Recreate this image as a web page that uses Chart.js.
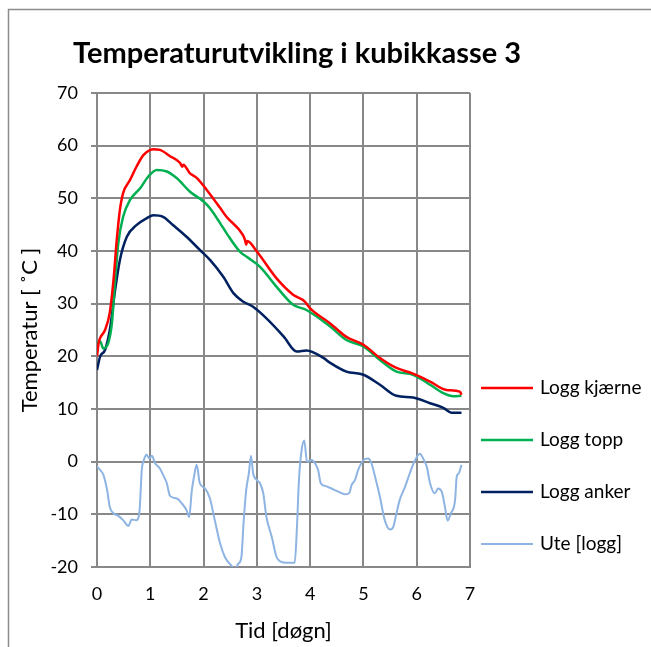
<!DOCTYPE html>
<html>
<head>
<meta charset="utf-8">
<script src="https://cdn.jsdelivr.net/npm/chart.js@4/dist/chart.umd.min.js"></script>
<style>
html,body{margin:0;padding:0;background:#fff;overflow:hidden;}
#wrap{position:relative;width:651px;height:647px;}
</style>
</head>
<body>
<div id="wrap"><canvas id="c" width="651" height="647"></canvas></div>
<script>
// ---- Data ----
const titleText = "Temperaturutvikling i kubikkasse 3";
const xTitle = "Tid [døgn]";
const yTitle = "Temperatur [ ˚C ]";
const seriesNames = ["Logg kjærne", "Logg topp", "Logg anker", "Ute [logg]"];

const kjerneDays = [0, 0.03, 0.06, 0.15, 0.24, 0.31, 0.37, 0.43, 0.49, 0.62, 0.74, 0.87, 1.0, 1.06, 1.18, 1.37, 1.56, 1.6, 1.62, 1.74, 1.87, 2.06, 2.31, 2.43, 2.74, 2.78, 2.8, 2.82, 3.0, 3.37, 3.68, 3.9, 4.0, 4.37, 4.68, 5.0, 5.31, 5.62, 5.93, 6.25, 6.56, 6.81, 6.84];
const kjerneTemp = [20.0, 22.5, 23.5, 25.0, 28.3, 34.5, 42.0, 47.8, 51.0, 53.5, 56.0, 58.2, 59.2, 59.3, 59.2, 58.0, 56.7, 56.0, 56.4, 54.8, 53.9, 51.6, 48.2, 46.5, 43.0, 42.0, 41.2, 41.9, 39.9, 34.8, 31.7, 30.4, 29.1, 26.3, 23.7, 22.2, 19.7, 17.8, 16.7, 15.2, 13.6, 13.3, 12.7];

const toppDays = [0, 0.06, 0.12, 0.21, 0.28, 0.34, 0.40, 0.49, 0.62, 0.81, 0.96, 1.12, 1.31, 1.5, 1.74, 2.0, 2.12, 2.31, 2.43, 2.68, 2.81, 3.06, 3.37, 3.68, 3.93, 4.37, 4.68, 5.0, 5.31, 5.62, 5.93, 6.25, 6.5, 6.69, 6.84];
const toppTemp = [22.5, 22.8, 21.5, 22.5, 26.3, 34.5, 41.5, 46.5, 49.7, 51.9, 54.1, 55.4, 55.1, 53.8, 51.3, 49.4, 48.1, 45.3, 43.4, 39.9, 38.9, 37.0, 33.2, 29.8, 28.8, 25.7, 23.1, 21.9, 19.3, 17.1, 16.5, 14.6, 13.0, 12.4, 12.5];

const ankerDays = [0, 0.06, 0.15, 0.24, 0.34, 0.43, 0.56, 0.74, 0.93, 1.06, 1.24, 1.43, 1.68, 1.93, 2.12, 2.37, 2.56, 2.74, 2.93, 3.18, 3.5, 3.75, 3.93, 4.25, 4.37, 4.68, 5.0, 5.31, 5.62, 5.93, 6.25, 6.5, 6.65, 6.84];
const ankerTemp = [17.4, 20.0, 21.2, 25.0, 32.6, 38.3, 42.7, 44.9, 46.2, 46.8, 46.5, 44.9, 42.7, 40.2, 38.3, 35.1, 32.0, 30.4, 29.4, 27.2, 23.8, 20.9, 21.1, 19.7, 18.8, 17.1, 16.5, 14.6, 12.5, 12.2, 11.1, 10.2, 9.3, 9.3];

const uteDays = [0, 0.06, 0.12, 0.19, 0.24, 0.31, 0.40, 0.49, 0.59, 0.65, 0.74, 0.80, 0.82, 0.84, 0.88, 0.93, 0.98, 1.03, 1.09, 1.18, 1.24, 1.31, 1.37, 1.5, 1.59, 1.68, 1.73, 1.78, 1.82, 1.87, 1.93, 2.03, 2.12, 2.21, 2.31, 2.40, 2.50, 2.59, 2.65, 2.71, 2.75, 2.80, 2.85, 2.89, 2.93, 3.0, 3.06, 3.12, 3.18, 3.28, 3.37, 3.45, 3.55, 3.62, 3.71, 3.75, 3.79, 3.84, 3.89, 3.94, 4.03, 4.09, 4.15, 4.20, 4.28, 4.40, 4.53, 4.65, 4.73, 4.78, 4.84, 4.90, 5.0, 5.09, 5.15, 5.22, 5.31, 5.40, 5.50, 5.56, 5.62, 5.68, 5.78, 5.87, 5.97, 6.06, 6.12, 6.19, 6.25, 6.34, 6.40, 6.47, 6.53, 6.58, 6.64, 6.72, 6.75, 6.79, 6.84];
const uteTemp = [-0.9, -1.6, -2.5, -5.4, -8.6, -9.8, -10.3, -11.1, -12.2, -11.0, -11.1, -9.2, -5.4, -1.6, 0.3, 1.3, 0.6, 1.1, -0.3, -1.3, -2.5, -4.1, -6.5, -7.0, -7.9, -9.2, -10.5, -5.4, -2.9, -0.6, -4.1, -5.1, -7.0, -11.1, -15.5, -18.1, -19.5, -20.3, -19.4, -18.1, -11.7, -5.4, -2.2, 1.1, -2.2, -3.5, -4.1, -6.0, -10.5, -14.3, -18.1, -19.0, -19.2, -19.2, -19.2, -13.0, -3.5, 2.2, 4.0, 0.0, 0.3, -0.3, -1.6, -4.1, -4.6, -5.1, -5.7, -6.2, -6.0, -4.4, -3.5, -1.6, 0.3, 0.6, -0.3, -2.9, -6.7, -11.1, -12.9, -12.4, -9.8, -7.3, -4.8, -2.2, 0.3, 1.5, 0.6, -1.0, -4.1, -6.0, -5.1, -5.7, -8.6, -11.2, -9.8, -7.3, -2.9, -2.2, -0.6];

const xTicks = [0, 1, 2, 3, 4, 5, 6, 7];
const yTicks = [-20, -10, 0, 10, 20, 30, 40, 50, 60, 70];

// ---- Build datasets ----
function pts(xs, ys){ return xs.map((x,i)=>({x:x, y:ys[i]})); }
const colors = ["#FF0000", "#00B050", "#002060", "#8EB4E3"];
const widths = [2.5, 2.5, 2.5, 2];
const dataSets = [pts(kjerneDays,kjerneTemp), pts(toppDays,toppTemp), pts(ankerDays,ankerTemp), pts(uteDays,uteTemp)];

const FONT = "Lato";
const gridColor = "#888888";

const decor = {
  id: "decor",
  beforeDraw(chart){
    const ctx = chart.ctx;
    ctx.save();
    ctx.fillStyle = "#fff";
    ctx.fillRect(0,0,chart.width,chart.height);
    ctx.strokeStyle = "#8c8c8c";
    ctx.lineWidth = 1.5;
    ctx.strokeRect(8.5, 9.5, 800, 800);
    ctx.restore();
  },
  afterDraw(chart){
    const ctx = chart.ctx;
    ctx.save();
    // title
    ctx.fillStyle = "#000";
    ctx.font = "bold 29px " + FONT;
    ctx.textAlign = "center";
    ctx.textBaseline = "alphabetic";
    ctx.fillText(titleText, 297, 63);
    // legend
    const ys = [388, 440, 492, 544];
    chart.data.datasets.forEach((ds,i)=>{
      ctx.strokeStyle = ds.borderColor;
      ctx.lineWidth = ds.borderWidth;
      ctx.beginPath();
      ctx.moveTo(481, ys[i]);
      ctx.lineTo(533, ys[i]);
      ctx.stroke();
      ctx.fillStyle = "#000";
      ctx.font = "19px " + FONT;
      ctx.textAlign = "left";
      ctx.textBaseline = "middle";
      ctx.fillText(ds.label, 540, ys[i]);
    });
    ctx.restore();
  }
};

new Chart(document.getElementById("c"), {
  type: "line",
  data: {
    datasets: dataSets.map((d,i)=>({
      label: seriesNames[i],
      data: d,
      borderColor: colors[i],
      backgroundColor: colors[i],
      borderWidth: widths[i],
      pointRadius: 0,
      tension: 0.25,
      cubicInterpolationMode: "monotone",
      fill: false
    }))
  },
  options: {
    responsive: false,
    animation: false,
    events: [],
    layout: { padding: { top: 93, right: 181, bottom: 0, left: 0 } },
    plugins: { legend: { display: false }, title: { display: false }, tooltip: { enabled: false } },
    scales: {
      x: {
        type: "linear", min: 0, max: 7,
        afterBuildTicks(s){ s.ticks = xTicks.map(v=>({value:v})); },
        afterFit(s){ s.height = 80; s.paddingLeft = 0; s.paddingRight = 0; },
        ticks: { color: "#000", font: { family: FONT, size: 18 }, padding: 16, maxRotation: 0, autoSkip: false },
        grid: { color: gridColor, lineWidth: 2, drawTicks: false },
        border: { color: gridColor, width: 2 },
        title: { display: true, text: xTitle, color: "#000", font: { family: FONT, size: 22 }, padding: { top: 0, bottom: 3 } }
      },
      y: {
        type: "linear", min: -20, max: 70,
        afterBuildTicks(s){ s.ticks = yTicks.map(v=>({value:v})); },
        afterFit(s){ s.width = 97; s.paddingTop = 0; s.paddingBottom = 0; },
        ticks: { color: "#000", font: { family: FONT, size: 18 }, padding: 13, autoSkip: false },
        grid: { color: gridColor, lineWidth: 2, drawTicks: true, tickLength: 6 },
        border: { color: gridColor, width: 2 },
        title: { display: true, text: yTitle, color: "#000", font: { family: FONT, size: 22 }, padding: { top: 17, bottom: 0 } }
      }
    }
  },
  plugins: [decor]
});
</script>
</body>
</html>
